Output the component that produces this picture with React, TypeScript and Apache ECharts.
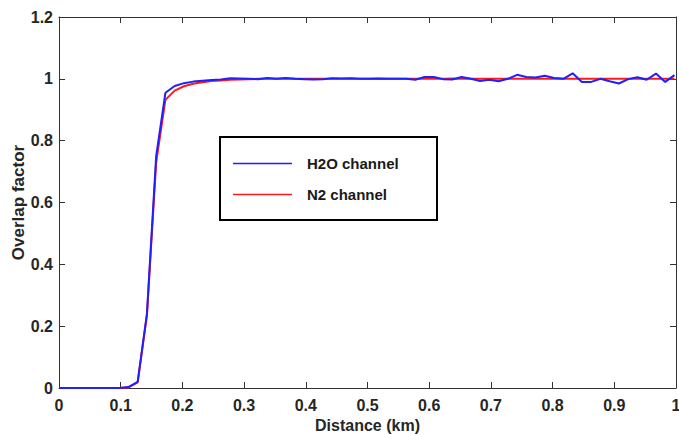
import React, { useEffect, useRef } from "react";
import * as echarts from "echarts";

const distanceKm = [
  0, 0.0075, 0.0225, 0.0375, 0.0525, 0.0675, 0.0825, 0.0975, 0.1125, 0.1275,
  0.1425, 0.1575, 0.1725, 0.1875, 0.2025, 0.2175, 0.2325, 0.2475, 0.2625, 0.2775,
  0.2925, 0.3075, 0.3225, 0.3375, 0.3525, 0.3675, 0.3825, 0.3975, 0.4125, 0.4275,
  0.4425, 0.4575, 0.4725, 0.4875, 0.5025, 0.5175, 0.5325, 0.5475, 0.5625, 0.5775,
  0.5925, 0.6075, 0.6225, 0.6375, 0.6525, 0.6675, 0.6825, 0.6975, 0.7125, 0.7275,
  0.7425, 0.7575, 0.7725, 0.7875, 0.8025, 0.8175, 0.8325, 0.8475, 0.8625, 0.8775,
  0.8925, 0.9075, 0.9225, 0.9375, 0.9525, 0.9675, 0.9825, 0.9975,
];

const h2oOverlap = [
  0, 0, 0, 0, 0, 0, 0, 0, 0.003, 0.02,
  0.24, 0.75, 0.955, 0.977, 0.986, 0.991, 0.994, 0.996, 0.998, 1.002,
  1.001, 1.0, 0.999, 1.003, 1.0, 1.003, 1.0, 0.999, 0.998, 0.999,
  1.002, 1.001, 1.002, 1.0, 1.0, 1.001, 1.0, 1.0, 1.0, 0.997,
  1.006, 1.006, 0.999, 0.998, 1.006, 1.0, 0.993, 0.997, 0.992, 1.0,
  1.013, 1.006, 1.004, 1.01, 1.003, 1.0, 1.018, 0.99, 0.99, 1.0,
  0.992, 0.985, 0.999, 1.005, 0.997, 1.017, 0.99, 1.012,
];

const n2Overlap = [
  0, 0, 0, 0, 0, 0, 0, 0, 0.002, 0.018,
  0.235, 0.73, 0.932, 0.962, 0.976, 0.984, 0.989, 0.993, 0.995, 0.997,
  0.998, 0.999, 1.0, 1.0, 1.0, 1.0, 1.0, 1.0, 1.0, 1.0,
  1.0, 1.0, 1.0, 1.0, 1.0, 1.0, 1.0, 1.0, 1.0, 1.0,
  1.0, 1.0, 1.0, 1.001, 1.0, 1.0, 1.0, 1.0, 1.0, 1.0,
  1.0, 1.0, 1.0, 1.0, 1.001, 1.0, 1.0, 1.0, 1.0, 1.0,
  1.0, 1.0, 1.0, 1.0, 1.0, 1.0, 1.0, 1.0,
];

const seriesNames = ["H2O channel", "N2 channel"];
const xTicks = [0, 0.1, 0.2, 0.3, 0.4, 0.5, 0.6, 0.7, 0.8, 0.9, 1];
const yTicks = [0, 0.2, 0.4, 0.6, 0.8, 1, 1.2];

const FONT = "'Liberation Sans', Arial, sans-serif";
const AXIS_COLOR = "#333333";
const LABEL_COLOR = "#262626";

export default function App() {
  const ref = useRef<HTMLDivElement>(null);

  useEffect(() => {
    if (!ref.current) return;
    const chart = echarts.init(ref.current, undefined, { renderer: "svg" });
    const fmt = (v: number) => String(Number(v.toFixed(2)));
    const baseX = {
      type: "value",
      min: xTicks[0],
      max: xTicks[xTicks.length - 1],
      interval: 0.1,
      splitLine: { show: false },
      axisLine: { show: true, onZero: false, lineStyle: { color: AXIS_COLOR, width: 1 } },
      axisTick: { show: true, inside: true, length: 6, lineStyle: { color: AXIS_COLOR } },
    };
    const baseY = {
      type: "value",
      min: yTicks[0],
      max: yTicks[yTicks.length - 1],
      interval: 0.2,
      splitLine: { show: false },
      axisLine: { show: true, onZero: false, lineStyle: { color: AXIS_COLOR, width: 1 } },
      axisTick: { show: true, inside: true, length: 6, lineStyle: { color: AXIS_COLOR } },
    };
    chart.setOption({
      animation: false,
      backgroundColor: "#ffffff",
      grid: {
        left: 59,
        right: 3,
        top: 17,
        bottom: 47,
        containLabel: false,
        outerBoundsMode: "none",
      },
      legend: {
        data: seriesNames,
        orient: "vertical",
        left: 220,
        top: 137,
        backgroundColor: "#ffffff",
        borderColor: "#000000",
        borderWidth: 2,
        borderRadius: 0,
        padding: [18, 13, 17, 13],
        itemGap: 14,
        itemWidth: 59,
        itemHeight: 1.5,
        icon: "rect",
        textStyle: {
          fontFamily: FONT,
          fontWeight: "bold",
          fontSize: 15,
          color: "#1a1a1a",
          width: 117,
          lineHeight: 17,
          padding: [0, 0, 0, 10],
        },
      },
      xAxis: [
        {
          ...baseX,
          position: "bottom",
          name: "Distance (km)",
          nameLocation: "middle",
          nameGap: 29,
          nameMoveOverlap: false,
          nameTextStyle: { fontFamily: FONT, fontWeight: "bold", fontSize: 16, color: LABEL_COLOR },
          axisLabel: {
            show: true,
            margin: 9,
            formatter: fmt,
            fontFamily: FONT,
            fontWeight: "bold",
            fontSize: 16,
            color: LABEL_COLOR,
          },
        },
        { ...baseX, position: "top", axisLabel: { show: false } },
      ],
      yAxis: [
        {
          ...baseY,
          position: "left",
          name: "Overlap factor",
          nameLocation: "middle",
          nameGap: 32,
          nameMoveOverlap: false,
          nameRotate: 90,
          nameTextStyle: { fontFamily: FONT, fontWeight: "bold", fontSize: 17, color: LABEL_COLOR },
          axisLabel: {
            show: true,
            margin: 6,
            formatter: fmt,
            fontFamily: FONT,
            fontWeight: "bold",
            fontSize: 16,
            color: LABEL_COLOR,
          },
        },
        { ...baseY, position: "right", axisLabel: { show: false } },
      ],
      series: [
        {
          name: seriesNames[0],
          type: "line",
          xAxisIndex: 0,
          yAxisIndex: 0,
          data: distanceKm.map((d, i) => [d, h2oOverlap[i]]),
          showSymbol: false,
          symbol: "none",
          z: 3,
          color: "#1f1fff",
          lineStyle: { color: "#1f1fff", width: 2 },
        },
        {
          name: seriesNames[1],
          type: "line",
          xAxisIndex: 0,
          yAxisIndex: 0,
          data: distanceKm.map((d, i) => [d, n2Overlap[i]]),
          showSymbol: false,
          symbol: "none",
          z: 2,
          color: "#ff1a1a",
          lineStyle: { color: "#ff1a1a", width: 2 },
        },
      ],
    });
    return () => chart.dispose();
  }, []);

  return <div ref={ref} style={{ width: 679, height: 435, position: "absolute", left: 0, top: 0 }} />;
}
